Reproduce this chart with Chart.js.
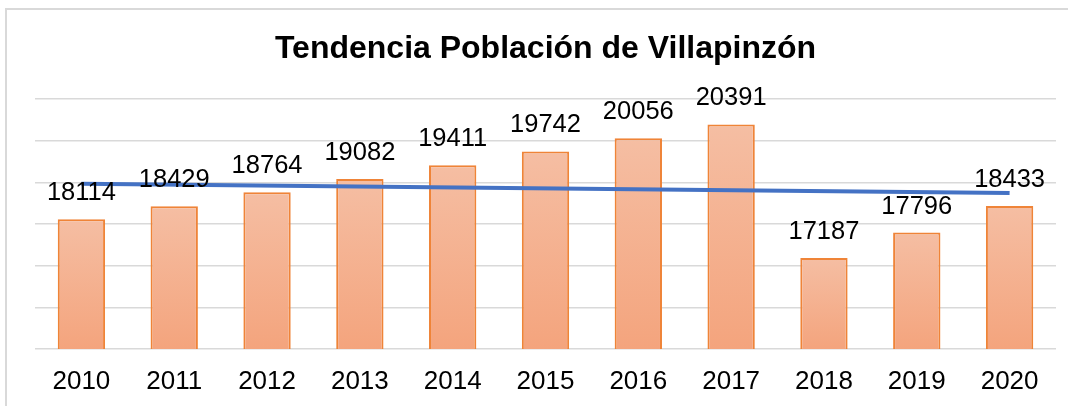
<!DOCTYPE html>
<html>
<head>
<meta charset="utf-8">
<script src="https://cdn.jsdelivr.net/npm/chart.js@4/dist/chart.umd.min.js"></script>
<style>
html,body{margin:0;padding:0;background:#fff;}
#wrap{position:relative;width:1068px;height:406px;}
</style>
</head>
<body>
<div id="wrap"><canvas id="c" width="1068" height="406"></canvas></div>
<script>
const years = ['2010','2011','2012','2013','2014','2015','2016','2017','2018','2019','2020'];
const population = [18114,18429,18764,19082,19411,19742,20056,20391,17187,17796,18433];
// trend line end points (first and last year)
const trendStart = 18964;
const trendEnd = 18746;
const trend = years.map((y, i) => i === 0 ? trendStart : (i === years.length - 1 ? trendEnd : null));
const yMin = 15000, yMax = 21000, yStep = 1000;
const titleText = 'Tendencia Población de Villapinzón';

const FONT = "'Liberation Sans', Arial, sans-serif";

const frame = {
  id: 'frame',
  beforeDraw(chart) {
    const c = chart.ctx;
    c.save();
    c.strokeStyle = '#d9d9d9';
    c.lineWidth = 2;
    c.beginPath();
    c.moveTo(6, 406);
    c.lineTo(6, 9);
    c.lineTo(1068, 9);
    c.stroke();
    c.restore();
  }
};

const labels = {
  id: 'barLabels',
  afterDatasetsDraw(chart) {
    const meta = chart.getDatasetMeta(1);
    const c = chart.ctx;
    c.save();
    c.font = '25.5px ' + FONT;
    c.fillStyle = '#000';
    c.textAlign = 'center';
    c.textBaseline = 'middle';
    meta.data.forEach((bar, i) => {
      c.fillText(String(population[i]), bar.x, bar.y - 26);
    });
    c.restore();
  }
};

new Chart(document.getElementById('c'), {
  data: {
    labels: years,
    datasets: [
      {
        type: 'line',
        data: trend,
        spanGaps: true,
        borderColor: '#4472c4',
        borderWidth: 4,
        pointRadius: 0,
        fill: false,
        order: 0
      },
      {
        type: 'bar',
        data: population,
        barPercentage: 0.51,
        categoryPercentage: 1.0,
        borderColor: '#ef8438',
        borderWidth: 2,
        borderSkipped: 'bottom',
        backgroundColor(ctx) {
          const chart = ctx.chart;
          const { chartArea, scales } = chart;
          if (!chartArea || ctx.type !== 'data' || !scales.y) return '#f4b08f';
          const top = scales.y.getPixelForValue(ctx.raw);
          const bottom = scales.y.getPixelForValue(yMin);
          const g = chart.ctx.createLinearGradient(0, top, 0, bottom);
          g.addColorStop(0, '#f5bea3');
          g.addColorStop(1, '#f4a47d');
          return g;
        },
        order: 1
      }
    ]
  },
  options: {
    responsive: false,
    animation: false,
    events: [],
    layout: { padding: { left: 35, right: 12, top: 0, bottom: 0 } },
    plugins: {
      legend: { display: false },
      tooltip: { enabled: false },
      title: {
        display: true,
        text: titleText,
        color: '#000',
        font: { family: FONT, size: 32, weight: 'bold', lineHeight: 1.2 },
        padding: { top: 30, bottom: 30.6 }
      }
    },
    scales: {
      x: {
        grid: { display: false, drawTicks: false },
        border: { display: false },
        ticks: {
          color: '#000',
          font: { family: FONT, size: 26 },
          padding: 17,
          maxRotation: 0,
          autoSkip: false
        },
        afterFit(scale) { scale.height = 57; }
      },
      y: {
        min: yMin,
        max: yMax,
        ticks: { display: false, stepSize: yStep },
        grid: { color: '#d9d9d9', lineWidth: 1.6, drawTicks: false },
        border: { display: false },
        afterFit(scale) { scale.width = 0; }
      }
    }
  },
  plugins: [frame, labels]
});
</script>
</body>
</html>
